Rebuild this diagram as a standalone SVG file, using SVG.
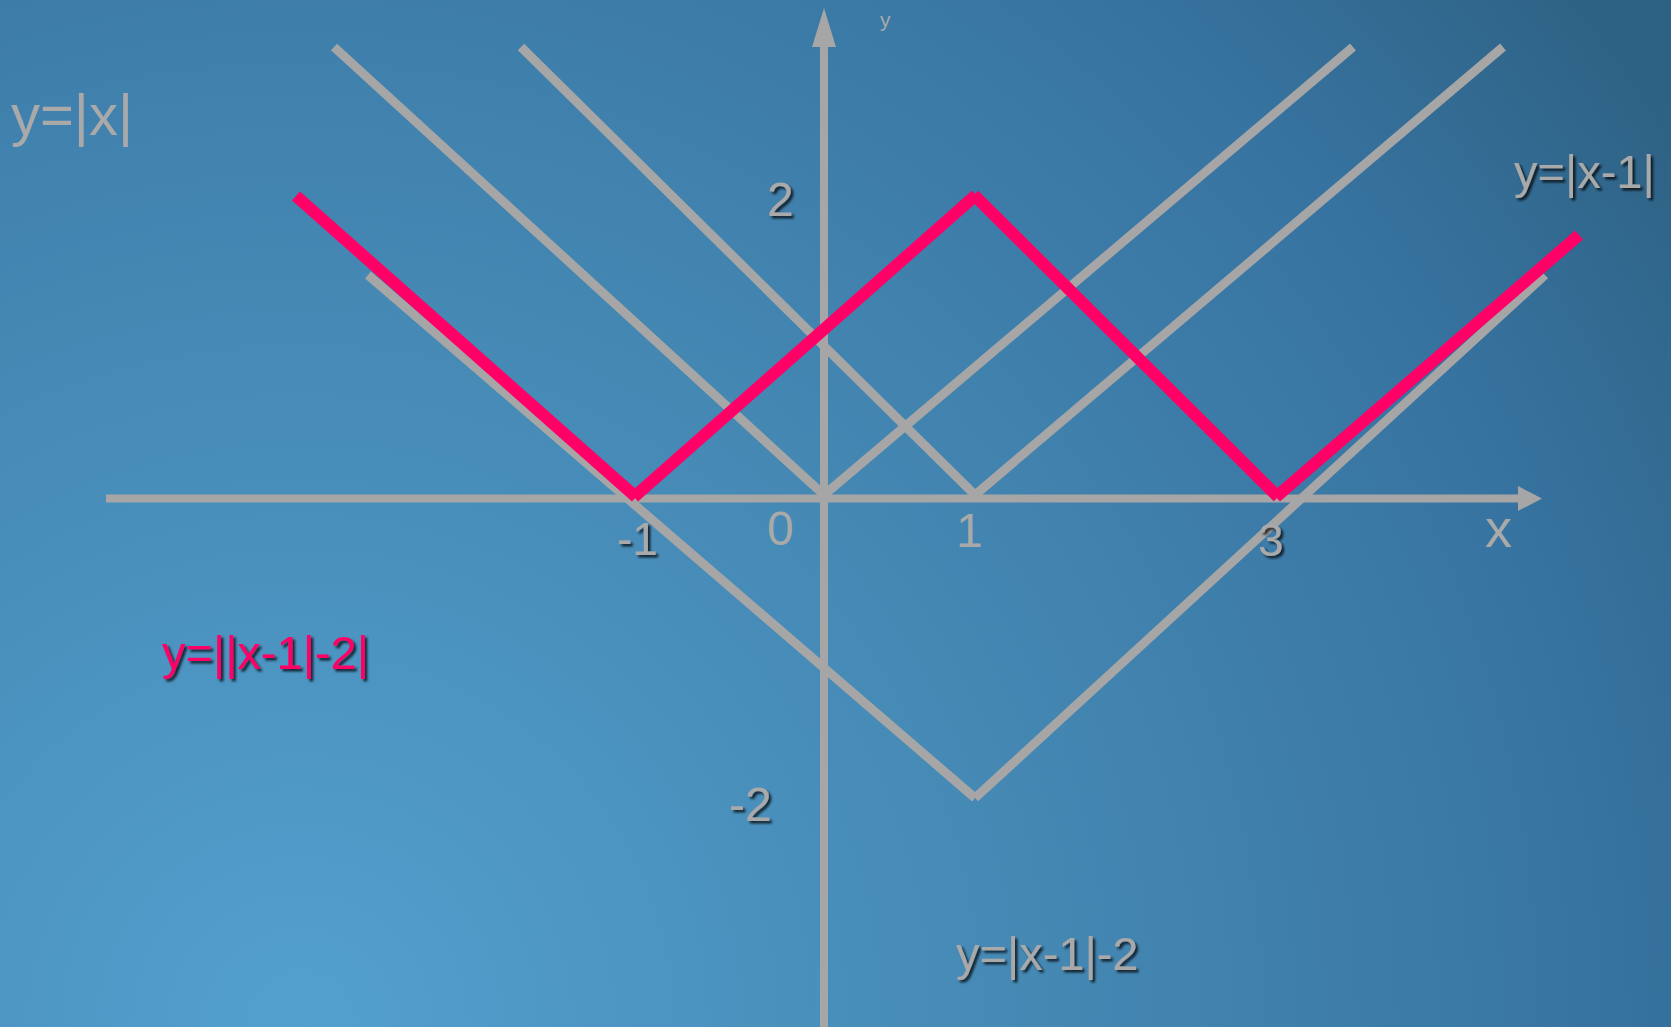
<svg xmlns="http://www.w3.org/2000/svg" width="1671" height="1027" viewBox="0 0 1671 1027">
<defs>
<radialGradient id="bg" cx="300" cy="1027" r="1650" gradientUnits="userSpaceOnUse">
<stop offset="0" stop-color="#53a0cf"/>
<stop offset="0.45" stop-color="#4588b4"/>
<stop offset="0.8" stop-color="#3773a0"/>
<stop offset="1" stop-color="#2e6284"/>
</radialGradient>
<filter id="sh" x="-10%" y="-20%" width="130%" height="150%">
<feDropShadow dx="2.5" dy="2.5" stdDeviation="1.2" flood-color="#000" flood-opacity="0.75"/>
</filter>
</defs>
<style>
.g{stroke:#a6a6a6;stroke-width:9;fill:none;stroke-linecap:butt}
.p{stroke:#ff0066;stroke-width:12;fill:none;stroke-linecap:butt}
.ax{stroke:#a6a6a6;stroke-width:8;fill:none}
.ah{fill:#a6a6a6}
text{font-family:"Liberation Sans",Arial,sans-serif;fill:#a9a9a9}
.s{filter:url(#sh)}
</style>
<rect width="1671" height="1027" fill="url(#bg)"/>
<g id="connectors">
<g id="curve-abs-x">
<line class="g" x1="334" y1="47" x2="824" y2="495"/>
<line class="g" x1="824" y1="495" x2="1353" y2="47"/>
</g>
<g id="curve-abs-x-1">
<line class="g" x1="521" y1="47" x2="975" y2="495"/>
<line class="g" x1="975" y1="495" x2="1503" y2="47"/>
</g>
<g id="curve-abs-x-1-minus-2">
<line class="g" x1="368" y1="275" x2="975" y2="798"/>
<line class="g" x1="975" y1="798" x2="1545" y2="275"/>
</g>
<g id="x-axis">
<line class="ax" x1="106" y1="498.5" x2="1520" y2="498.5"/>
<polygon class="ah" points="1518,486 1542,498.5 1518,511"/>
</g>
<g id="y-axis">
<line class="ax" x1="824" y1="1027" x2="824" y2="45"/>
<polygon class="ah" points="812,47 824,8 836,47"/>
</g>
<g id="curve-target">
<line class="p" x1="296" y1="196" x2="636" y2="497"/>
<line class="p" x1="634" y1="497" x2="976" y2="195"/>
<line class="p" x1="974" y1="195" x2="1278" y2="497"/>
<line class="p" x1="1276" y1="497" x2="1579" y2="235"/>
</g>
</g>
<g id="label-y-abs-x"><text x="11" y="135" font-size="58">y=|x|</text></g>
<g id="label-y"><text x="880" y="27" font-size="21">y</text></g>
<g id="label-2"><text class="s" x="767" y="216" font-size="48">2</text></g>
<g id="label-0"><text x="767" y="545" font-size="48">0</text></g>
<g id="label-1"><text x="956" y="547" font-size="48">1</text></g>
<g id="label-minus1"><text class="s" x="617" y="555" font-size="46">-1</text></g>
<g id="label-3"><text class="s" x="1258" y="556" font-size="46">3</text></g>
<g id="label-x"><text x="1485" y="547" font-size="54">x</text></g>
<g id="label-minus2"><text class="s" x="729" y="821" font-size="48">-2</text></g>
<g id="label-y-abs-x-1"><text class="s" x="1514" y="188" font-size="47">y=|x-1|</text></g>
<g id="label-y-abs-x-1-minus-2"><text class="s" x="956" y="970" font-size="47">y=|x-1|-2</text></g>
<g id="label-target"><text class="s" x="162" y="669" font-size="47" style="fill:#ff0066">y=||x-1|-2|</text></g>
</svg>
